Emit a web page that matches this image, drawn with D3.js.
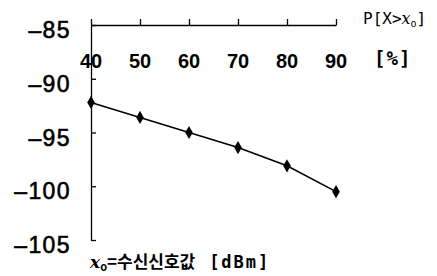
<!DOCTYPE html>
<html>
<head>
<meta charset="utf-8">
<script src="https://cdn.jsdelivr.net/npm/d3@7"></script>
<style>
  body { margin: 0; background: #fff; }
  svg { display: block; }
</style>
</head>
<body>
<div id="container"></div>
<script>
// data
const probs = [40, 50, 60, 70, 80, 90]
const levels = [-92.2, -93.6, -95.0, -96.4, -98.1, -100.5]
const yTicks = [-85, -90, -95, -100, -105]
const xTicks = [40, 50, 60, 70, 80, 90]

const width = 437
const height = 276

const x = d3.scaleLinear().domain([40, 90]).range([91, 336])
const y = d3.scaleLinear().domain([-85, -105]).range([25, 240])

const svg = d3.create('svg')
    .attr('width', width)
    .attr('height', height)

// top axis (ticks point up)
const topAxis = svg.append('g')
    .attr('transform', 'translate(0,25)')
    .call(d3.axisTop(x).tickValues(xTicks).tickSize(6).tickSizeOuter(0).tickFormat(''))
topAxis.selectAll('path, line').attr('stroke', '#000').attr('stroke-width', 1.3)

// x labels sit below the line
svg.append('g')
    .selectAll('text')
    .data(xTicks)
    .enter()
    .append('text')
    .attr('x', d => x(d))
    .attr('y', 68)
    .attr('text-anchor', 'middle')
    .style('font-family', 'Liberation Sans, Arial, sans-serif')
    .style('font-weight', 'bold')
    .style('font-size', '20px')
    .text(d => d)

// left axis (ticks point right)
const leftAxis = svg.append('g')
    .attr('transform', 'translate(91,0)')
    .call(d3.axisRight(y).tickValues(yTicks).tickSize(5).tickSizeOuter(0).tickFormat(''))
leftAxis.selectAll('path, line').attr('stroke', '#000').attr('stroke-width', 1.3)

svg.append('g')
    .selectAll('text')
    .data(yTicks)
    .enter()
    .append('text')
    .attr('x', 71)
    .attr('y', d => y(d) + 13)
    .attr('text-anchor', 'end')
    .style('font-family', 'Liberation Sans, Arial, sans-serif')
    .style('font-size', '23px')
    .style('letter-spacing', '1.4px')
    .style('stroke', '#000')
    .style('stroke-width', 0.6)
    .text(d => '\u2013' + Math.abs(d))

// the line and diamonds
const line = d3.line().x((d, i) => x(probs[i])).y(d => y(d))
svg.append('path')
    .datum(levels)
    .attr('d', line)
    .attr('fill', 'none')
    .attr('stroke', '#000')
    .attr('stroke-width', 1.6)

svg.append('g')
    .selectAll('path')
    .data(levels)
    .enter()
    .append('path')
    .attr('d', d3.symbol().type(d3.symbolDiamond).size(50))
    .attr('transform', (d, i) => `translate(${x(probs[i])},${y(d)})`)
    .attr('fill', '#000')

// axis titles
const title = svg.append('text')
    .attr('x', 363)
    .attr('y', 24)
    .style('font-family', 'DejaVu Sans Mono, monospace')
    .style('font-size', '16px')
title.append('tspan').text('P[X>')
title.append('tspan').style('font-family', 'DejaVu Serif, serif').style('font-style', 'italic').text('x')
title.append('tspan').attr('dy', 3).style('font-size', '10px').text('o')
title.append('tspan').attr('dy', -3).text(']')

svg.append('text')
    .attr('x', 374)
    .attr('y', 65)
    .style('font-family', 'DejaVu Sans Mono, monospace')
    .style('font-weight', 'bold')
    .style('font-size', '19px')
    .style('letter-spacing', '1px')
    .text('[%]')

const bottom = svg.append('text')
    .attr('x', 90)
    .attr('y', 268)
    .style('font-family', 'Noto Sans CJK KR, sans-serif')
    .style('font-weight', 'bold')
    .style('font-size', '17px')
bottom.append('tspan').style('font-family', 'DejaVu Serif, serif').style('font-style', 'italic').text('x')
bottom.append('tspan').attr('dy', 3).style('font-size', '11px').text('o')
bottom.append('tspan').attr('dy', -3).text('=수신신호값 ')
bottom.append('tspan')
    .attr('dx', 10)
    .style('font-family', 'DejaVu Sans Mono, monospace')
    .style('font-weight', 'bold')
    .style('font-size', '17px')
    .style('letter-spacing', '2px')
    .text('[dBm]')

d3.select('#container').append(() => svg.node())
</script>
</body>
</html>
